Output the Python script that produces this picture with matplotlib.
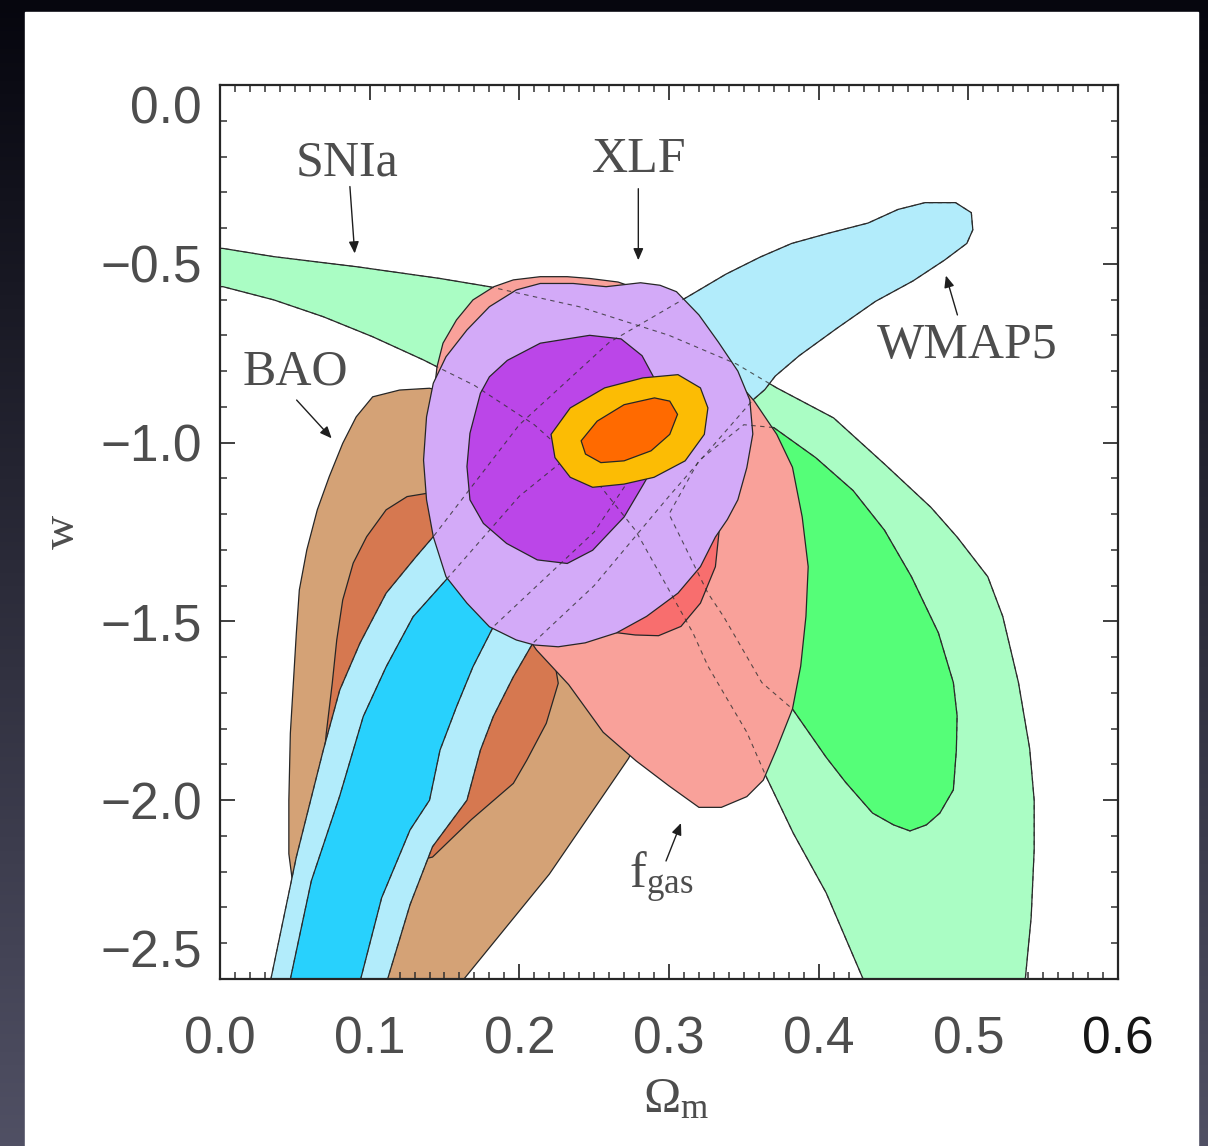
import numpy as np
import matplotlib
matplotlib.use("Agg")
import matplotlib.pyplot as plt
from matplotlib.patches import Polygon, Rectangle
from matplotlib.ticker import FixedLocator, MultipleLocator

plt.rcParams['font.family'] = ['Liberation Serif', 'DejaVu Serif']
plt.rcParams['mathtext.fontset'] = 'custom'
plt.rcParams['mathtext.rm'] = 'Liberation Serif'
plt.rcParams['mathtext.it'] = 'Liberation Serif:italic'

# ---------------- data (Omega_m, w) contour outlines ----------------
SNIA_OUTER = [(-0.02, -0.452), (0.002, -0.457), (0.036, -0.480), (0.091, -0.508), (0.147, -0.541),
              (0.180, -0.564), (0.240, -0.620), (0.300, -0.700), (0.345, -0.780), (0.372, -0.847),
              (0.410, -0.931), (0.444, -1.060), (0.475, -1.181), (0.4925, -1.264), (0.513, -1.375),
              (0.523, -1.486), (0.5335, -1.671), (0.541, -1.856), (0.544, -2.000), (0.544, -2.139),
              (0.542, -2.327), (0.538, -2.503), (0.537, -2.600), (0.427, -2.600), (0.430, -2.503),
              (0.405, -2.259), (0.383, -2.092), (0.365, -1.935), (0.352, -1.810), (0.339, -1.718),
              (0.326, -1.625), (0.316, -1.532), (0.295, -1.375), (0.2775, -1.245), (0.250, -1.100),
              (0.210, -0.950), (0.170, -0.840), (0.145, -0.788), (0.136, -0.769), (0.102, -0.704),
              (0.069, -0.648), (0.036, -0.601), (0.002, -0.564), (-0.02, -0.560)]
SNIA_INNER = [(0.370, -0.958), (0.398, -1.042), (0.423, -1.134), (0.444, -1.245), (0.462, -1.375),
              (0.480, -1.532), (0.490, -1.671), (0.4925, -1.764), (0.492, -1.860), (0.490, -1.971),
              (0.481, -2.036), (0.472, -2.069), (0.461, -2.086), (0.450, -2.069), (0.436, -2.036),
              (0.418, -1.950), (0.405, -1.880), (0.3825, -1.745), (0.362, -1.671), (0.3467, -1.560),
              (0.3364, -1.486), (0.326, -1.421), (0.300, -1.200), (0.320, -1.050), (0.350, -0.950)]
WMAP_OUTER = [(0.030, -2.600), (0.034, -2.500), (0.051, -2.159), (0.069, -1.860), (0.080, -1.692),
              (0.0935, -1.561), (0.111, -1.421), (0.131, -1.319), (0.1425, -1.263), (0.200, -0.950),
              (0.260, -0.720), (0.315, -0.586), (0.338, -0.529), (0.361, -0.481), (0.382, -0.443),
              (0.407, -0.414), (0.433, -0.386), (0.453, -0.348), (0.471, -0.329), (0.4915, -0.329),
              (0.502, -0.357), (0.503, -0.405), (0.499, -0.443), (0.484, -0.490), (0.463, -0.548),
              (0.438, -0.605), (0.412, -0.681), (0.387, -0.757), (0.371, -0.814), (0.364, -0.852),
              (0.356, -0.881), (0.300, -1.150), (0.250, -1.400), (0.209, -1.561), (0.196, -1.655),
              (0.1826, -1.766), (0.174, -1.860), (0.165, -2.000), (0.142, -2.130), (0.127, -2.292),
              (0.112, -2.500), (0.108, -2.600)]
WMAP_INNER = [(0.043, -2.600), (0.047, -2.500), (0.061, -2.226), (0.080, -1.988), (0.0957, -1.766),
              (0.111, -1.627), (0.129, -1.487), (0.151, -1.384), (0.200, -1.150), (0.250, -0.980),
              (0.280, -0.950), (0.290, -1.000), (0.250, -1.250), (0.1826, -1.515), (0.169, -1.627),
              (0.158, -1.739), (0.147, -1.860), (0.140, -2.000), (0.127, -2.083), (0.108, -2.273),
              (0.094, -2.500), (0.091, -2.600)]
BAO_OUTER = [(0.102, -0.872), (0.120, -0.853), (0.140, -0.848), (0.190, -0.900), (0.250, -1.100),
             (0.290, -1.400), (0.300, -1.650), (0.273, -1.883), (0.220, -2.207), (0.163, -2.500),
             (0.155, -2.600), (0.060, -2.600), (0.046, -2.150), (0.046, -2.000), (0.047, -1.813),
             (0.049, -1.673), (0.051, -1.533), (0.053, -1.412), (0.058, -1.300), (0.065, -1.188),
             (0.073, -1.095), (0.082, -1.002), (0.091, -0.928)]
BAO_INNER = [(0.111, -1.188), (0.125, -1.151), (0.138, -1.142), (0.180, -1.200), (0.215, -1.350),
             (0.228, -1.500), (0.2226, -1.589), (0.226, -1.673), (0.218, -1.785), (0.205, -1.888),
             (0.196, -1.953), (0.168, -2.054), (0.142, -2.159), (0.100, -2.200), (0.072, -2.050),
             (0.069, -1.906), (0.071, -1.813), (0.075, -1.673), (0.078, -1.552), (0.082, -1.440),
             (0.089, -1.337), (0.098, -1.263)]
FGAS_OUTER = [(0.1425, -0.881), (0.145, -0.788), (0.149, -0.722), (0.158, -0.657), (0.169, -0.601),
              (0.183, -0.564), (0.196, -0.545), (0.214, -0.536), (0.232, -0.536), (0.247, -0.541),
              (0.266, -0.551), (0.300, -0.600), (0.330, -0.720), (0.350, -0.850), (0.357, -0.884),
              (0.372, -0.977), (0.3825, -1.069), (0.389, -1.208), (0.393, -1.347), (0.3915, -1.486),
              (0.388, -1.625), (0.3825, -1.745), (0.372, -1.856), (0.363, -1.944), (0.352, -1.990),
              (0.335, -2.020), (0.320, -2.020), (0.300, -1.960), (0.278, -1.890), (0.256, -1.810),
              (0.233, -1.677), (0.2115, -1.580), (0.190, -1.450), (0.160, -1.200), (0.145, -1.000)]
FGAS_INNER = [(0.334, -1.227), (0.331, -1.347), (0.321, -1.449), (0.308, -1.514), (0.293, -1.540),
              (0.2775, -1.538), (0.262, -1.530), (0.240, -1.450), (0.220, -1.200), (0.230, -0.900),
              (0.270, -0.800), (0.310, -0.850), (0.330, -1.000)]
XLF_OUTER = [(0.151, -0.760), (0.165, -0.685), (0.180, -0.620), (0.198, -0.573), (0.214, -0.555),
             (0.236, -0.555), (0.258, -0.564), (0.281, -0.553), (0.294, -0.560), (0.305, -0.578),
             (0.320, -0.643), (0.333, -0.719), (0.346, -0.800), (0.354, -0.881), (0.356, -0.976),
             (0.352, -1.070), (0.346, -1.160), (0.339, -1.215), (0.331, -1.264), (0.321, -1.347),
             (0.306, -1.421), (0.285, -1.486), (0.265, -1.532), (0.244, -1.560), (0.226, -1.571),
             (0.210, -1.566), (0.198, -1.552), (0.180, -1.515), (0.165, -1.449), (0.151, -1.375),
             (0.1425, -1.263), (0.138, -1.160), (0.136, -1.049), (0.138, -0.928), (0.1425, -0.834)]
XLF_INNER = [(0.174, -0.862), (0.180, -0.816), (0.192, -0.770), (0.214, -0.722), (0.247, -0.700),
             (0.268, -0.710), (0.282, -0.757), (0.290, -0.819), (0.296, -0.950), (0.292, -1.050),
             (0.283, -1.116), (0.270, -1.208), (0.249, -1.301), (0.232, -1.338), (0.212, -1.328),
             (0.1915, -1.282), (0.176, -1.226), (0.167, -1.160), (0.165, -1.067), (0.167, -0.974)]
COMB_OUTER = [(0.2212, -0.977), (0.234, -0.903), (0.257, -0.847), (0.2826, -0.819), (0.306, -0.810),
              (0.321, -0.847), (0.326, -0.903), (0.3236, -0.977), (0.3108, -1.051), (0.290, -1.097),
              (0.270, -1.116), (0.249, -1.125), (0.234, -1.097), (0.2238, -1.042)]
COMB_INNER = [(0.2413, -0.995), (0.252, -0.940), (0.270, -0.894), (0.2903, -0.875), (0.3005, -0.884),
              (0.3057, -0.921), (0.3005, -0.977), (0.288, -1.023), (0.270, -1.051), (0.2545, -1.056),
              (0.2442, -1.032)]

# labels: (text, text position, arrow tail, arrow tip)
LABELS = [
    ("SNIa", (0.0846, -0.219), (0.0868, -0.284), (0.090, -0.471)),
    ("XLF", (0.2800, -0.210), (0.2795, -0.290), (0.2795, -0.490)),
    ("BAO", (0.0500, -0.802), (0.0512, -0.881), (0.0746, -0.988)),
    ("WMAP5", (0.4990, -0.729), (0.4927, -0.643), (0.4850, -0.533)),
    (r"$\mathregular{f_{gas}}$", (0.2950, -2.215), (0.2980, -2.170), (0.3080, -2.064)),
]

X_TICKS = [0.0, 0.1, 0.2, 0.3, 0.4, 0.5, 0.6]
X_TICKLABELS = ["0.0", "0.1", "0.2", "0.3", "0.4", "0.5", "0.6"]
Y_TICKS = [0.0, -0.5, -1.0, -1.5, -2.0, -2.5]
Y_TICKLABELS = ["0.0", "\u22120.5", "\u22121.0", "\u22121.5", "\u22122.0", "\u22122.5"]

# ---------------- figure ----------------
W, H = 1208, 1146
fig = plt.figure(figsize=(W / 100, H / 100), dpi=100)

bg = fig.add_axes([0, 0, 1, 1])
bg.set_axis_off()
t = np.linspace(0, 1, 256)[:, None, None]
top_c = np.array([6, 6, 14]) / 255.0
bot_c = np.array([80, 80, 100]) / 255.0
img = top_c + (bot_c - top_c) * t
bg.imshow(img, aspect='auto', extent=[0, 1, 0, 1], origin='upper')
bg.set_xlim(0, 1)
bg.set_ylim(0, 1)
bg.add_patch(Rectangle((25 / W, 0), (1198 - 25) / W, 1 - 12 / H, color='white', zorder=2))

ax = fig.add_axes([220 / W, 1 - 979 / H, 898 / W, 894 / H])
ax.set_xlim(0, 0.6)
ax.set_ylim(-2.5, 0)
ax.set_facecolor('white')

EC = '#262626'

def patch(pts, fc, z):
    ax.add_patch(Polygon(pts, closed=True, fc=fc, ec=EC, lw=0.9, zorder=z))

patch(BAO_OUTER, '#d4a276', 1)
patch(BAO_INNER, '#d67850', 2)
patch(SNIA_OUTER, '#aafdc4', 3)
patch(SNIA_INNER, '#55fe78', 4)
patch(WMAP_OUTER, '#b2ecfb', 5)
patch(WMAP_INNER, '#28d1fd', 6)
patch(FGAS_OUTER, '#f9a19a', 7)
patch(FGAS_INNER, '#f86e6e', 8)
patch(XLF_OUTER, '#d3aaf8', 9)
patch(XLF_INNER, '#bb46e8', 10)

# dashed outlines of other contours seen through
for pts in (SNIA_OUTER, SNIA_INNER, WMAP_OUTER, WMAP_INNER):
    ax.add_patch(Polygon(pts, closed=True, fill=False, ec='#303030', lw=0.8,
                         ls=(0, (4, 4)), zorder=11, alpha=0.8))

patch(COMB_OUTER, '#fcbc04', 12)
patch(COMB_INNER, '#ff6a00', 13)

for txt, tpos, tail, tip in LABELS:
    ax.text(tpos[0], tpos[1], txt, ha='center', va='center', fontsize=36,
            color='#4d4d4d', zorder=20)
    ax.annotate('', xy=tip, xytext=tail, zorder=20,
                arrowprops=dict(arrowstyle='-|>,head_length=0.7,head_width=0.3',
                                color='#1e1e1e', lw=1.0, shrinkA=0, shrinkB=0))

# ticks
ax.xaxis.set_major_locator(FixedLocator(X_TICKS))
ax.yaxis.set_major_locator(FixedLocator(Y_TICKS))
ax.xaxis.set_minor_locator(MultipleLocator(0.01))
ax.yaxis.set_minor_locator(MultipleLocator(0.1))
ax.set_xticklabels(X_TICKLABELS, fontfamily='Liberation Sans', fontsize=37, color='#4d4d4d')
ax.set_yticklabels(Y_TICKLABELS, fontfamily='Liberation Sans', fontsize=37, color='#4d4d4d')
ax.tick_params(which='both', direction='in', top=True, right=True, color='#303030')
ax.tick_params(which='major', length=11, width=1.3)
ax.tick_params(which='minor', length=5, width=1.1)
ax.tick_params(axis='x', which='major', pad=26)
ax.tick_params(axis='y', which='major', pad=13)
ylabs = ax.get_yticklabels()
ylabs[0].set_va('top')
ylabs[-1].set_va('bottom')
ax.get_xticklabels()[-1].set_color('#161616')
for s in ax.spines.values():
    s.set_linewidth(1.6)
    s.set_color('#262626')
    s.set_zorder(30)

fig.text(63 / W, 1 - 532 / H, 'w', rotation=90, ha='center', va='center',
         fontsize=34, color='#4d4d4d')
fig.text(676 / W, 1 - 1100 / H, r'$\mathregular{\Omega_m}$', ha='center', va='center',
         fontsize=36, color='#4d4d4d')

fig.savefig('out.png', dpi=100)
